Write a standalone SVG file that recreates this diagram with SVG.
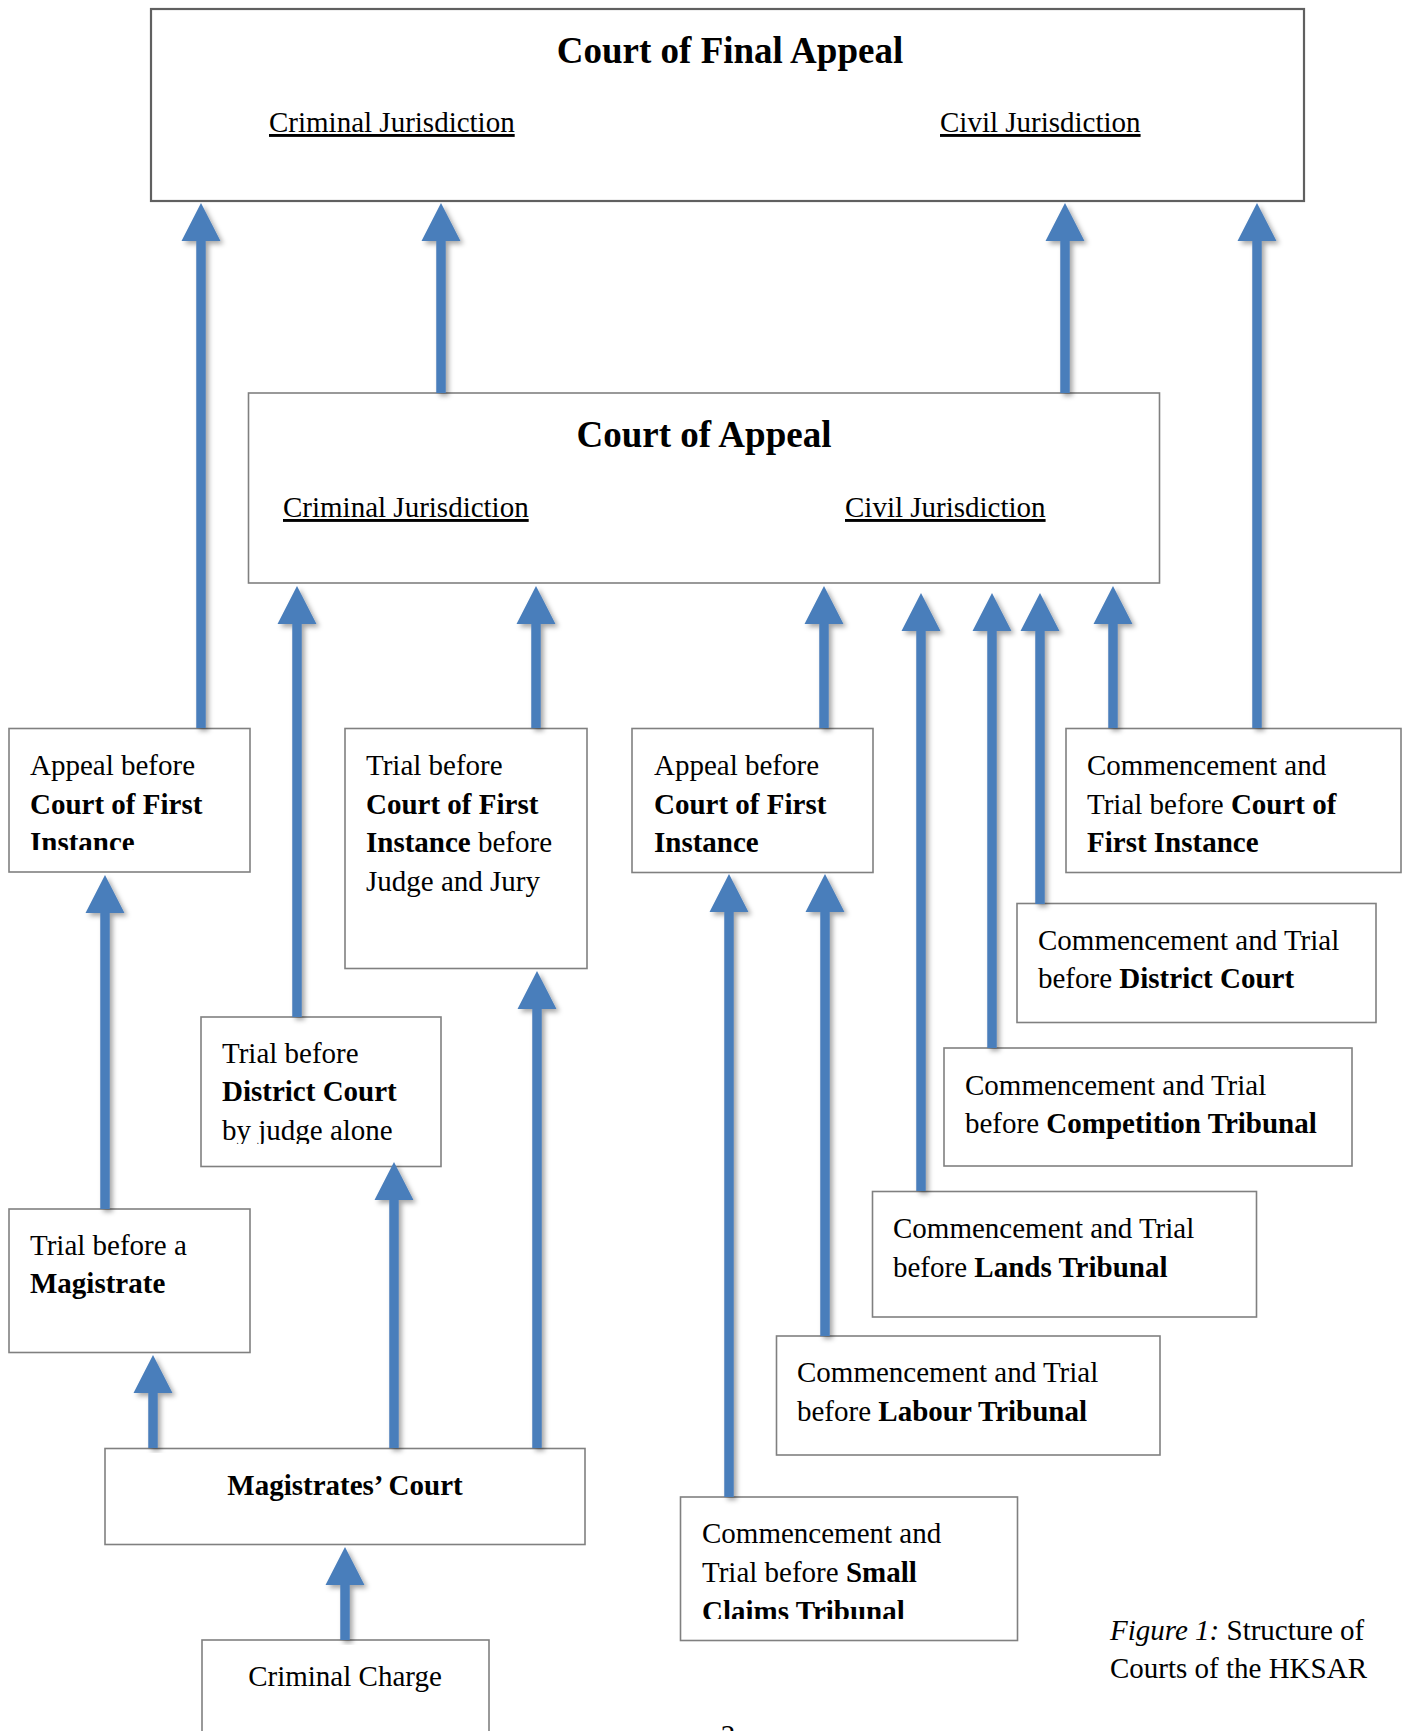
<svg xmlns="http://www.w3.org/2000/svg" width="1404" height="1731" viewBox="0 0 1404 1731">
<style>
  text { font-family: "Liberation Serif", "Times New Roman", serif; fill: #000; }
  .t { font-size: 29px; }
  .h { font-size: 37px; font-weight: bold; }
  .u { font-size: 29px; text-decoration: underline; }
  .b { font-weight: bold; }
  .i { font-style: italic; }
  .box { fill: #fff; stroke: #808080; stroke-width: 1.6; }
  .top { fill: #fff; stroke: #606060; stroke-width: 2.2; }
  .arrow { fill: #4a7ebb; filter: url(#sh); }
</style>
<defs>
  <filter id="sh" x="-50%" y="-5%" width="200%" height="110%">
    <feDropShadow dx="3" dy="3" stdDeviation="2.5" flood-color="#000" flood-opacity="0.35"/>
  </filter>
  <clipPath id="c1"><rect x="0" y="700" width="260" height="150"/></clipPath>
  <clipPath id="c6"><rect x="200" y="1017" width="240" height="127"/></clipPath>
  <clipPath id="c11"><rect x="680" y="1497" width="336" height="122"/></clipPath>
</defs>
<rect x="0" y="0" width="1404" height="1731" fill="#fff"/>

<g id="cfa">
  <rect class="top" x="151" y="9" width="1153" height="192"/>
  <text class="h" x="730" y="63" text-anchor="middle">Court of Final Appeal</text>
  <text class="u" x="269" y="132">Criminal Jurisdiction</text>
  <text class="u" x="940" y="132">Civil Jurisdiction</text>
</g>

<g id="coa">
  <rect class="box" x="248.5" y="393" width="911" height="190"/>
  <text class="h" x="704" y="447" text-anchor="middle">Court of Appeal</text>
  <text class="u" x="283" y="517">Criminal Jurisdiction</text>
  <text class="u" x="845" y="517">Civil Jurisdiction</text>
</g>

<g id="appeal-cfi-criminal">
  <rect class="box" x="9" y="728.5" width="241" height="143.5"/>
  <g clip-path="url(#c1)">
    <text class="t" x="30" y="775">Appeal before</text>
    <text class="t b" x="30" y="814">Court of First</text>
    <text class="t b" x="30" y="852">Instance</text>
  </g>
</g>

<g id="trial-cfi-jury">
  <rect class="box" x="345" y="728.5" width="242" height="240"/>
  <text class="t" x="366" y="775">Trial before</text>
  <text class="t b" x="366" y="814">Court of First</text>
  <text class="t" x="366" y="852"><tspan class="b">Instance</tspan> before</text>
  <text class="t" x="366" y="891">Judge and Jury</text>
</g>

<g id="appeal-cfi-civil">
  <rect class="box" x="632" y="728.5" width="241" height="144"/>
  <text class="t" x="654" y="775">Appeal before</text>
  <text class="t b" x="654" y="814">Court of First</text>
  <text class="t b" x="654" y="852">Instance</text>
</g>

<g id="commencement-cfi">
  <rect class="box" x="1066" y="728.5" width="335" height="144"/>
  <text class="t" x="1087" y="775">Commencement and</text>
  <text class="t" x="1087" y="814">Trial before <tspan class="b">Court of</tspan></text>
  <text class="t b" x="1087" y="852">First Instance</text>
</g>

<g id="district-court-civil">
  <rect class="box" x="1017" y="903.5" width="359" height="119"/>
  <text class="t" x="1038" y="950">Commencement and Trial</text>
  <text class="t" x="1038" y="988">before <tspan class="b">District Court</tspan></text>
</g>

<g id="district-court-criminal">
  <rect class="box" x="201" y="1017" width="240" height="149.5"/>
  <g clip-path="url(#c6)">
    <text class="t" x="222" y="1063">Trial before</text>
    <text class="t b" x="222" y="1101">District Court</text>
    <text class="t" x="222" y="1140">by judge alone</text>
  </g>
</g>

<g id="competition-tribunal">
  <rect class="box" x="944" y="1048" width="408" height="118"/>
  <text class="t" x="965" y="1095">Commencement and Trial</text>
  <text class="t" x="965" y="1133">before <tspan class="b">Competition Tribunal</tspan></text>
</g>

<g id="magistrate">
  <rect class="box" x="9" y="1209" width="241" height="143.5"/>
  <text class="t" x="30" y="1255">Trial before a</text>
  <text class="t b" x="30" y="1293">Magistrate</text>
</g>

<g id="lands-tribunal">
  <rect class="box" x="872.5" y="1191.5" width="384" height="125.5"/>
  <text class="t" x="893" y="1238">Commencement and Trial</text>
  <text class="t" x="893" y="1277">before <tspan class="b">Lands Tribunal</tspan></text>
</g>

<g id="labour-tribunal">
  <rect class="box" x="776.5" y="1336" width="383.5" height="119"/>
  <text class="t" x="797" y="1382">Commencement and Trial</text>
  <text class="t" x="797" y="1421">before <tspan class="b">Labour Tribunal</tspan></text>
</g>

<g id="magistrates-court">
  <rect class="box" x="105" y="1448.5" width="480" height="96"/>
  <text class="t b" x="345" y="1495" text-anchor="middle">Magistrates’ Court</text>
</g>

<g id="small-claims-tribunal">
  <rect class="box" x="680.5" y="1497" width="337" height="143.5"/>
  <g clip-path="url(#c11)">
    <text class="t" x="702" y="1543">Commencement and</text>
    <text class="t" x="702" y="1582">Trial before <tspan class="b">Small</tspan></text>
    <text class="t b" x="702" y="1621">Claims Tribunal</text>
  </g>
</g>

<g id="criminal-charge">
  <rect class="box" x="202" y="1640" width="287" height="110"/>
  <text class="t" x="345" y="1686" text-anchor="middle">Criminal Charge</text>
</g>

<g id="connectors">
  <path class="arrow" d="M196.25,728 V241 H181.5 L201,203 L220.5,241 H205.75 V728 Z"/>
  <path class="arrow" d="M436.25,393 V241 H421.5 L441,203 L460.5,241 H445.75 V393 Z"/>
  <path class="arrow" d="M1060.25,393 V241 H1045.5 L1065,203 L1084.5,241 H1069.75 V393 Z"/>
  <path class="arrow" d="M1252.25,728 V241 H1237.5 L1257,203 L1276.5,241 H1261.75 V728 Z"/>

  <path class="arrow" d="M292.25,1017 V624 H277.5 L297,586 L316.5,624 H301.75 V1017 Z"/>
  <path class="arrow" d="M531.25,728 V624 H516.5 L536,586 L555.5,624 H540.75 V728 Z"/>
  <path class="arrow" d="M819.25,728 V624 H804.5 L824,586 L843.5,624 H828.75 V728 Z"/>
  <path class="arrow" d="M916.25,1191 V631 H901.5 L921,593 L940.5,631 H925.75 V1191 Z"/>
  <path class="arrow" d="M987.25,1048 V631 H972.5 L992,593 L1011.5,631 H996.75 V1048 Z"/>
  <path class="arrow" d="M1035.25,904 V631 H1020.5 L1040,593 L1059.5,631 H1044.75 V904 Z"/>
  <path class="arrow" d="M1108.25,728 V624 H1093.5 L1113,586 L1132.5,624 H1117.75 V728 Z"/>

  <path class="arrow" d="M100.25,1209 V913 H85.5 L105,875 L124.5,913 H109.75 V1209 Z"/>
  <path class="arrow" d="M148.25,1448 V1393 H133.5 L153,1355 L172.5,1393 H157.75 V1448 Z"/>
  <path class="arrow" d="M389.25,1448 V1200 H374.5 L394,1162 L413.5,1200 H398.75 V1448 Z"/>
  <path class="arrow" d="M532.25,1448 V1009 H517.5 L537,971 L556.5,1009 H541.75 V1448 Z"/>
  <path class="arrow" d="M340.25,1640 V1585 H325.5 L345,1547 L364.5,1585 H349.75 V1640 Z"/>

  <path class="arrow" d="M724.25,1497 V912 H709.5 L729,874 L748.5,912 H733.75 V1497 Z"/>
  <path class="arrow" d="M820.25,1336 V912 H805.5 L825,874 L844.5,912 H829.75 V1336 Z"/>
</g>

<g id="caption">
  <text class="t" x="1110" y="1640"><tspan class="i">Figure 1:</tspan> Structure of</text>
  <text class="t" x="1110" y="1678">Courts of the HKSAR</text>
</g>
<text class="t" x="728" y="1745" text-anchor="middle">2</text>
</svg>
